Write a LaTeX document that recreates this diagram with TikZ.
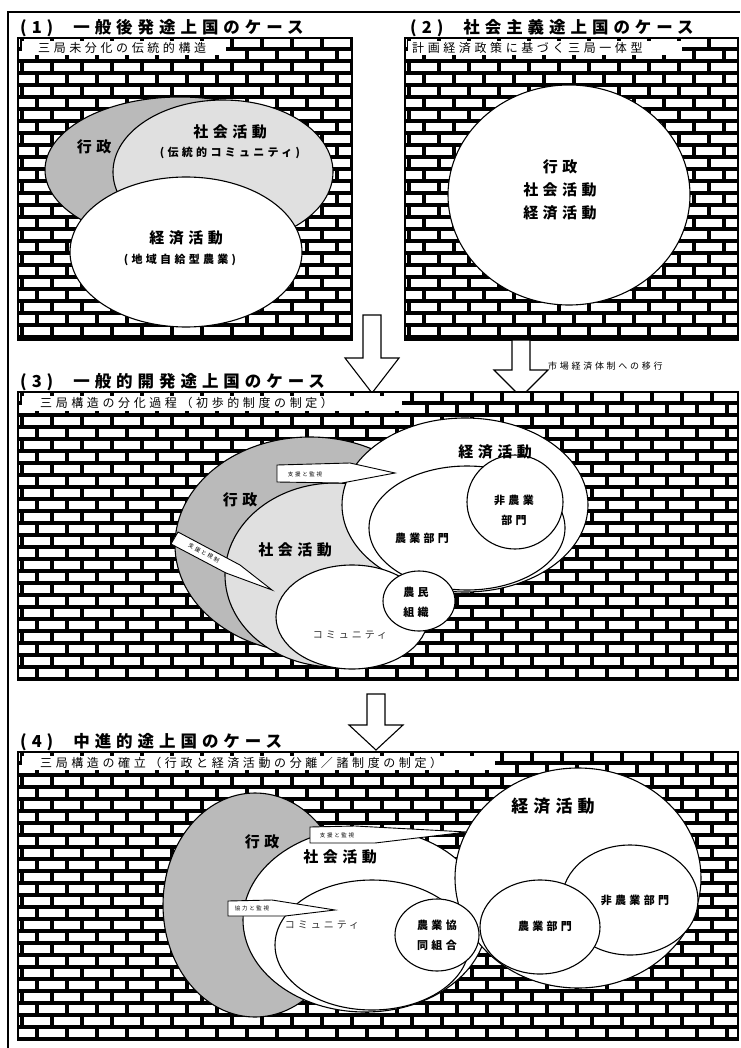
\documentclass[tikz,border=0pt]{standalone}
\usepackage{fontspec}
\setmainfont{Noto Sans CJK JP}[LetterSpace=30]
\usetikzlibrary{shapes.geometric}

\tikzset{
  mortar/.style={line width=3.2pt, black, line cap=butt},
  sphere/.style={ellipse, draw, line width=1.1pt, fill=white, inner sep=0pt},
  adminzone/.style={sphere, fill=black!27},
  socialzone/.style={sphere, fill=black!12},
  titletxt/.style={anchor=west, inner sep=0pt, font=\fontsize{16.5}{18}\selectfont\bfseries},
  subtxt/.style={anchor=west, inner sep=0pt, font=\fontsize{12}{13}\selectfont},
  bigtxt/.style={inner sep=0pt, align=center, font=\fontsize{15}{23}\selectfont\bfseries},
  midtxt/.style={inner sep=0pt, align=center, font=\fontsize{11}{20}\selectfont\bfseries},
  tinytxt/.style={inner sep=0pt, font=\fontsize{5.5}{6}\selectfont},
  callout/.style={draw, line width=0.9pt, fill=white},
  hollowarrow/.style={draw, line width=1.1pt, fill=white, line join=miter}
}

% brick wall filling a panel
\newcommand{\brickwall}[4]{%
  \fill[white] (#1,#2) rectangle (#3,#4);
  \begin{scope}
    \clip (#1,#2) rectangle (#3,#4);
    \foreach \r in {0,...,25}{
      \draw[mortar] (#1,#2+\r*12+11) -- (#3,#2+\r*12+11);
      \foreach \c in {0,...,24}{
        \draw[mortar] ({#1+\c*30+mod(\r,2)*15+4},#2+\r*12-1) -- ++(0,12);
      }
    }
  \end{scope}
  \draw[line width=1.2pt] (#1,#2) rectangle (#3,#4);
}

% elliptic sphere: name, style, cx, cy, rx, ry
\newcommand{\zone}[6]{%
  \node[#2, minimum width={2*#5pt}, minimum height={2*#6pt}] (#1) at (#3,#4) {};
}

% hollow down arrow: name, x, top, neck, tip
\newcommand{\hollowdown}[5]{%
  \draw[hollowarrow] (#2-9,#3) -- (#2-9,#4) -- (#2-27,#4) -- (#2,#5)
    -- (#2+27,#4) -- (#2+9,#4) -- (#2+9,#3) -- cycle;
  \coordinate (#1) at (#2,#5);
}

\begin{document}
\begin{tikzpicture}[x=1pt, y=-1pt]
  \useasboundingbox (0,0) rectangle (740,1048);

  % outer frame
  \draw[line width=1.4pt] (8,1048) -- (8,12) -- (740,12);

  % (1)
  \node[titletxt] (t1) at (20,28) {(1)\hspace{20pt}一般後発途上国のケース};
  \brickwall{18}{38}{352}{340}
  \fill[white] (22,41) rectangle (226,55);
  \node[subtxt] (s1) at (38,48) {三局未分化の伝統的構造};
  \zone{p1admin}{adminzone}{180}{170}{135}{73}
  \zone{p1social}{socialzone}{223}{172}{110}{72}
  \zone{p1econ}{sphere}{186}{252}{116}{75}
  \node[bigtxt] (p1a) at (94,147) {行政};
  \node[bigtxt] (p1s) at (230,132) {社会活動};
  \node[midtxt] (p1sc) at (230,153) {(伝統的コミュニティ)};
  \node[bigtxt] (p1e) at (186,238) {経済活動};
  \node[midtxt] (p1ec) at (180,260) {(地域自給型農業)};

  % (2)
  \node[titletxt] (t2) at (410,28) {(2)\hspace{20pt}社会主義途上国のケース};
  \brickwall{405}{38}{738}{340}
  \fill[white] (408,41) rectangle (682,55);
  \node[subtxt] (s2) at (412,48) {計画経済政策に基づく三局一体型};
  \zone{p2all}{sphere}{569}{195}{121}{110}
  \node[bigtxt] (p2t) at (560,190) {行政\\社会活動\\経済活動};

  % transitions
  \hollowdown{ar1}{372}{315}{358}{393}
  \hollowdown{ar2}{521}{340}{370}{397}
  \node[tinytxt, font=\fontsize{9}{10}\selectfont, anchor=west] (ar2t) at (548,366) {市場経済体制への移行};

  % (3)
  \node[titletxt] (t3) at (20,382) {(3)\hspace{20pt}一般的開発途上国のケース};
  \brickwall{18}{392}{738}{680}
  \fill[white] (22,396) rectangle (402,411);
  \node[subtxt] (s3) at (40,403) {三局構造の分化過程（初歩的制度の制定）};
  \zone{p3admin}{adminzone}{310}{545}{135}{108}
  \zone{p3social}{socialzone}{335}{575}{110}{92}
  \zone{p3econ}{sphere}{465}{505}{123}{87}
  \zone{p3agri}{sphere}{467}{528}{98}{62}
  \zone{p3nonagri}{sphere}{515}{502}{48}{47}
  \zone{p3comm}{sphere}{352}{617}{76}{52}
  \zone{p3farm}{sphere}{419}{601}{36}{30}
  \draw[callout] (277,465) -- (350,463) -- (395,473) -- (342,483) -- (277,482) -- cycle;
  \node[tinytxt] (p3c1) at (305,474) {支援と監視};
  \draw[callout] (178,532) -- (240,565) -- (272,590) -- (226,573) -- (171,544) -- cycle;
  \node[tinytxt, rotate=-28] (p3c2) at (204,553) {支援と規制};
  \node[bigtxt] (p3e) at (495,452) {経済活動};
  \node[midtxt] (p3n) at (514,510) {非農業\\部門};
  \node[midtxt] (p3g) at (422,538) {農業部門};
  \node[bigtxt] (p3a) at (240,500) {行政};
  \node[bigtxt] (p3s) at (295,550) {社会活動};
  \node[midtxt] (p3f) at (416,602) {農民\\組織};
  \node[midtxt, font=\fontsize{10}{12}\selectfont, text=black!80] (p3m) at (350,635) {コミュニティ};

  \hollowdown{ar3}{376}{694}{725}{750}

  % (4)
  \node[titletxt] (t4) at (20,742) {(4)\hspace{20pt}中進的途上国のケース};
  \brickwall{18}{752}{738}{1040}
  \fill[white] (22,756) rectangle (495,770);
  \node[subtxt] (s4) at (40,763) {三局構造の確立（行政と経済活動の分離／諸制度の制定）};
  \zone{p4admin}{adminzone}{255}{905}{92}{112}
  \zone{p4social}{sphere}{365}{920}{122}{92}
  \zone{p4econ}{sphere}{578}{878}{123}{110}
  \zone{p4comm}{sphere}{372}{945}{97}{65}
  \zone{p4coop}{sphere}{437}{935}{42}{36}
  \zone{p4nonagri}{sphere}{630}{900}{68}{55}
  \zone{p4agri}{sphere}{540}{927}{60}{47}
  \draw[callout] (310,827) -- (355,826) -- (467,832) -- (375,843) -- (310,843) -- cycle;
  \node[tinytxt] (p4c1) at (337,835) {支援と監視};
  \draw[callout] (228,901) -- (272,900) -- (335,910) -- (285,916) -- (228,916) -- cycle;
  \node[tinytxt] (p4c2) at (252,908) {協力と監視};
  \node[bigtxt] (p4a) at (262,842) {行政};
  \node[bigtxt] (p4s) at (340,857) {社会活動};
  \node[midtxt, font=\fontsize{10}{12}\selectfont, text=black!80] (p4m) at (322,925) {コミュニティ};
  \node[midtxt] (p4o) at (437,935) {農業協\\同組合};
  \node[bigtxt, font=\fontsize{17}{20}\selectfont\bfseries] (p4e) at (553,806) {経済活動};
  \node[midtxt] (p4g) at (545,926) {農業部門};
  \node[midtxt] (p4n) at (635,900) {非農業部門};
\end{tikzpicture}
\end{document}
